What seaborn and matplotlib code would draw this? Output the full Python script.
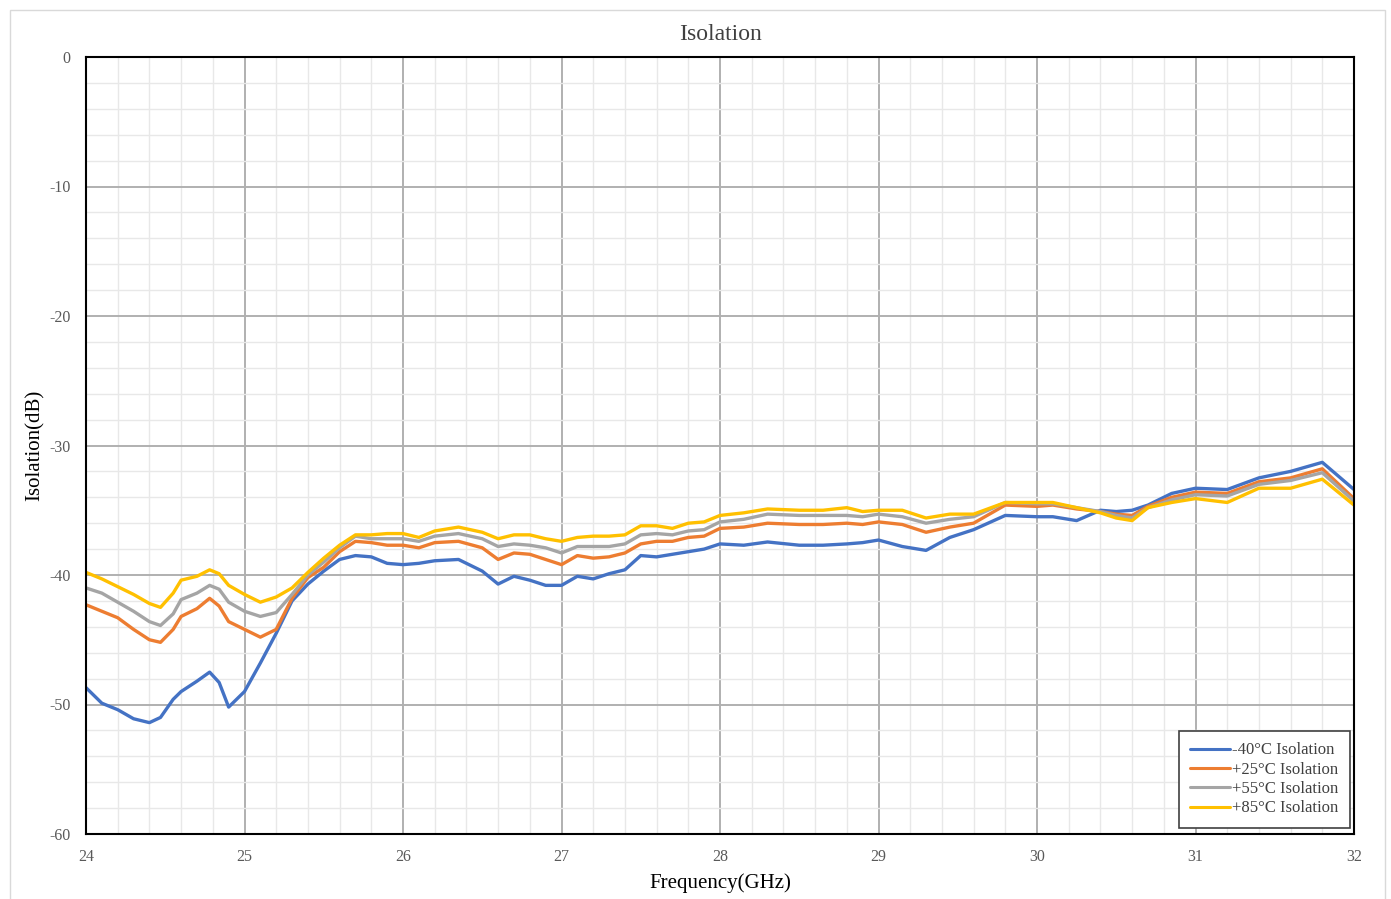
import matplotlib
matplotlib.use("Agg")
import matplotlib.pyplot as plt
from matplotlib.patches import Rectangle
from matplotlib.ticker import MultipleLocator
import seaborn as sns
import pandas as pd

freq = [24.0, 24.1, 24.2, 24.3, 24.4, 24.47, 24.55, 24.6, 24.7, 24.78, 24.84, 24.9,
        25.0, 25.1, 25.2, 25.3, 25.4, 25.5, 25.6, 25.7, 25.8, 25.9, 26.0, 26.1, 26.2,
        26.35, 26.5, 26.6, 26.7, 26.8, 26.9, 27.0, 27.1, 27.2, 27.3, 27.4, 27.5, 27.6,
        27.7, 27.8, 27.9, 28.0, 28.15, 28.3, 28.5, 28.65, 28.8, 28.9, 29.0, 29.15, 29.3,
        29.45, 29.6, 29.8, 30.0, 30.1, 30.25, 30.4, 30.5, 30.6, 30.7, 30.85, 31.0, 31.2,
        31.4, 31.6, 31.8, 32.0]

iso_m40 = [-48.7, -49.9, -50.4, -51.1, -51.4, -51.0, -49.6, -49.0, -48.2, -47.5, -48.3, -50.2,
           -49.0, -46.8, -44.5, -42.0, -40.7, -39.7, -38.8, -38.5, -38.6, -39.1, -39.2, -39.1, -38.9,
           -38.8, -39.7, -40.7, -40.1, -40.4, -40.8, -40.8, -40.1, -40.3, -39.9, -39.6, -38.5, -38.6,
           -38.4, -38.2, -38.0, -37.6, -37.7, -37.45, -37.7, -37.7, -37.6, -37.5, -37.3, -37.8, -38.1,
           -37.1, -36.5, -35.4, -35.5, -35.5, -35.8, -35.0, -35.1, -35.0, -34.6, -33.7, -33.3, -33.4,
           -32.5, -32.0, -31.3, -33.4]

iso_p25 = [-42.3, -42.8, -43.3, -44.2, -45.0, -45.2, -44.2, -43.2, -42.6, -41.8, -42.4, -43.6,
           -44.2, -44.8, -44.2, -41.8, -40.2, -39.4, -38.2, -37.4, -37.5, -37.7, -37.7, -37.9, -37.5,
           -37.4, -37.9, -38.8, -38.3, -38.4, -38.8, -39.2, -38.5, -38.7, -38.6, -38.3, -37.6, -37.4,
           -37.4, -37.1, -37.0, -36.4, -36.3, -36.0, -36.1, -36.1, -36.0, -36.1, -35.9, -36.1, -36.7,
           -36.3, -36.0, -34.6, -34.7, -34.6, -34.9, -35.1, -35.3, -35.4, -34.7, -34.0, -33.6, -33.7,
           -32.8, -32.5, -31.8, -34.1]

iso_p55 = [-41.0, -41.4, -42.1, -42.8, -43.6, -43.9, -43.0, -41.9, -41.4, -40.8, -41.1, -42.1,
           -42.8, -43.2, -42.9, -41.5, -40.0, -39.0, -37.9, -37.0, -37.2, -37.2, -37.2, -37.4, -37.0,
           -36.8, -37.2, -37.8, -37.6, -37.7, -37.9, -38.3, -37.8, -37.8, -37.8, -37.6, -36.9, -36.8,
           -36.9, -36.6, -36.5, -35.9, -35.7, -35.3, -35.4, -35.4, -35.4, -35.5, -35.3, -35.5, -36.0,
           -35.7, -35.5, -34.4, -34.5, -34.5, -34.8, -35.1, -35.4, -35.6, -34.8, -34.2, -33.8, -33.9,
           -33.0, -32.7, -32.1, -34.3]

iso_p85 = [-39.8, -40.3, -40.9, -41.5, -42.2, -42.5, -41.4, -40.4, -40.1, -39.6, -39.9, -40.8,
           -41.5, -42.1, -41.7, -41.0, -39.8, -38.7, -37.7, -36.9, -36.9, -36.8, -36.8, -37.1, -36.6,
           -36.3, -36.7, -37.2, -36.9, -36.9, -37.2, -37.4, -37.1, -37.0, -37.0, -36.9, -36.2, -36.2,
           -36.4, -36.0, -35.9, -35.4, -35.2, -34.9, -35.0, -35.0, -34.8, -35.1, -35.0, -35.0, -35.6,
           -35.3, -35.3, -34.4, -34.4, -34.4, -34.8, -35.2, -35.6, -35.8, -34.8, -34.4, -34.1, -34.4,
           -33.3, -33.3, -32.6, -34.6]

series_names = ["-40°C Isolation", "+25°C Isolation", "+55°C Isolation", "+85°C Isolation"]
series_values = [iso_m40, iso_p25, iso_p55, iso_p85]
colors = ["#4472C4", "#ED7D31", "#A5A5A5", "#FFC000"]

x_ticks = [24, 25, 26, 27, 28, 29, 30, 31, 32]
y_ticks = [0, -10, -20, -30, -40, -50, -60]

rows = []
for name, vals in zip(series_names, series_values):
    for f, v in zip(freq, vals):
        rows.append({"Frequency": f, "Isolation": v, "Series": name})
df = pd.DataFrame(rows)

sns.set_theme(style="white")
plt.rcParams["font.family"] = ["Liberation Serif", "DejaVu Serif"]

fig = plt.figure(figsize=(13.91, 8.99), dpi=100)
ax = fig.add_axes([86 / 1391, 1 - 834 / 899, (1354 - 86) / 1391, (834 - 57) / 899])

# outer light frame
fig.patches.append(Rectangle((10 / 1391, -0.01), (1385 - 10) / 1391, (889 + 0.01 * 899) / 899,
                             transform=fig.transFigure, fill=False, edgecolor="#D9D9D9",
                             linewidth=1.0, zorder=0))

sns.lineplot(data=df, x="Frequency", y="Isolation", hue="Series", hue_order=series_names,
             palette=colors, linewidth=2.4, ax=ax, estimator=None, sort=False)
for ln in ax.get_lines():
    ln.set_solid_joinstyle("round")
    ln.set_solid_capstyle("round")

ax.set_xlim(24, 32)
ax.set_ylim(-60, 0)
ax.set_xticks(x_ticks)
ax.set_yticks(y_ticks)
ax.set_xticklabels([str(t) for t in x_ticks])
ax.set_yticklabels([str(t) for t in y_ticks])
ax.xaxis.set_minor_locator(MultipleLocator(0.2))
ax.yaxis.set_minor_locator(MultipleLocator(2))
ax.grid(which="major", color="#B0B0B0", linewidth=1.4)
ax.grid(which="minor", color="#E8E8E8", linewidth=1.0)
ax.set_axisbelow(True)
ax.tick_params(axis="both", which="both", length=0, labelsize=11.5, labelcolor="#595959")
ax.tick_params(axis="x", pad=11)
ax.tick_params(axis="y", pad=11)

for s in ax.spines.values():
    s.set_color("black")
    s.set_linewidth(1.5)

ax.set_title("Isolation", fontsize=17, color="#404040", pad=12)
ax.set_xlabel("Frequency(GHz)", fontsize=15, color="black", labelpad=6)
ax.set_ylabel("Isolation(dB)", fontsize=15, color="black", labelpad=3)

leg = ax.legend(loc="lower right", bbox_to_anchor=(0.9968, 0.0077), fontsize=12, frameon=True,
                fancybox=False, edgecolor="#404040", handlelength=2.4, handletextpad=0.1,
                labelspacing=0.2, borderpad=0.7, borderaxespad=0, framealpha=1)
leg.get_frame().set_linewidth(1.2)
for h in leg.get_lines():
    h.set_linewidth(2.2)
for t in leg.get_texts():
    t.set_color("#404040")

fig.savefig("out.png", dpi=100)
